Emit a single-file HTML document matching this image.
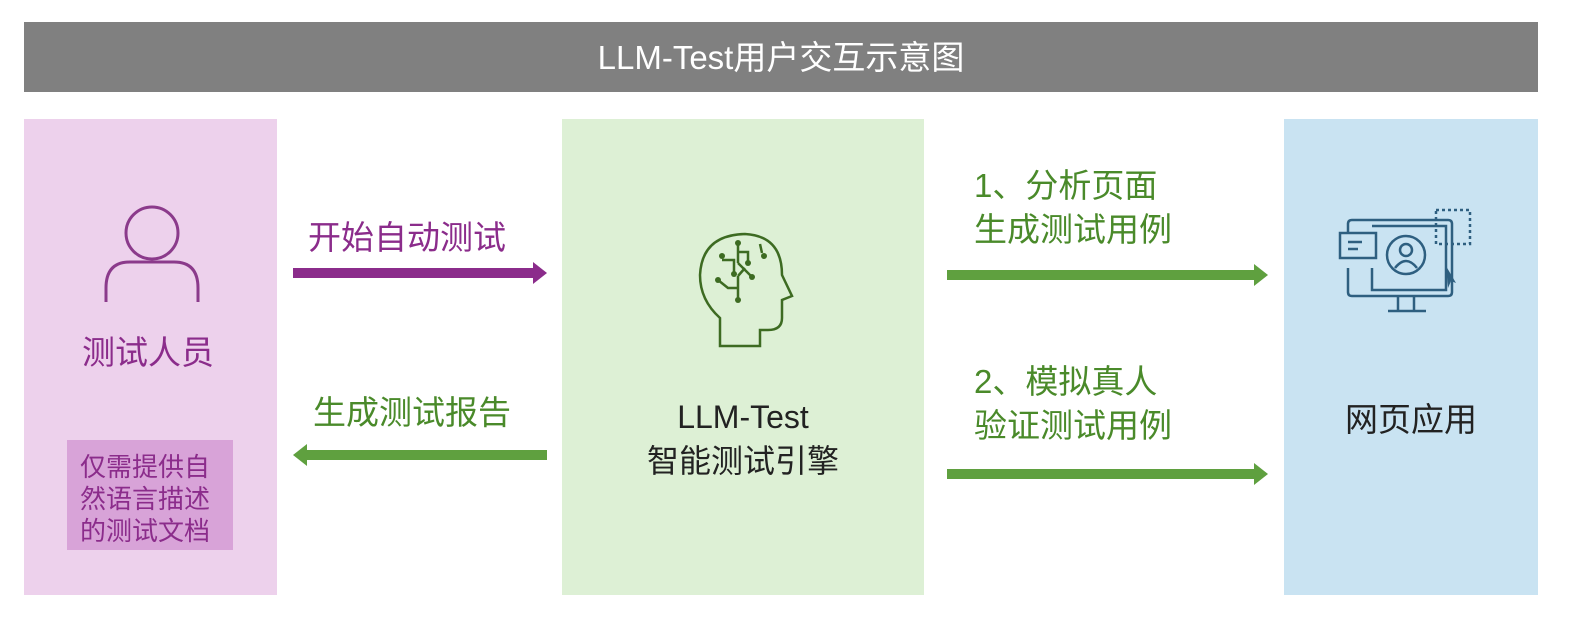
<!DOCTYPE html>
<html><head><meta charset="utf-8"><style>
body{margin:0;width:1586px;height:628px;background:#fff;position:relative;overflow:hidden;font-family:"Liberation Sans","Noto Sans CJK SC",sans-serif}
.a{position:absolute}
.t{position:absolute;white-space:nowrap;line-height:1}
</style></head><body>
<div class="a" style="left:24px;top:22px;width:1514px;height:70px;background:#808080"></div>
<div class="t" style="left:24px;width:1514px;top:41px;text-align:center;color:#fff;font-size:33px">LLM-Test用户交互示意图</div>
<div class="a" style="left:24px;top:119px;width:253px;height:476px;background:#edd1ec"></div>
<div class="a" style="left:562px;top:119px;width:362px;height:476px;background:#ddf0d5"></div>
<div class="a" style="left:1284px;top:119px;width:254px;height:476px;background:#c9e3f2"></div>
<svg class="a" style="left:0;top:0" width="1586" height="628">
<circle cx="152" cy="233" r="26" fill="none" stroke="#8b3a8b" stroke-width="3"/>
<path d="M106 302 V288 Q106 262 130 262 H174 Q198 262 198 288 V302" fill="none" stroke="#8b3a8b" stroke-width="3"/>
<rect x="293" y="268" width="242" height="10" fill="#8b2c8b"/><polygon points="533,262 547,273 533,284" fill="#8b2c8b"/>
<rect x="305" y="450" width="242" height="10" fill="#5fa03f"/><polygon points="307,444 293,455 307,466" fill="#5fa03f"/>
<rect x="947" y="270" width="308" height="10" fill="#5fa03f"/><polygon points="1254,264 1268,275 1254,286" fill="#5fa03f"/>
<rect x="947" y="469" width="308" height="10" fill="#5fa03f"/><polygon points="1254,463 1268,474 1254,485" fill="#5fa03f"/>
<g fill="none" stroke="#3d6b22" stroke-width="2.5">
<path d="M720 346 V318 Q700 300 700 275 Q702 235 745 234 Q782 236 782 275 L792 296 L782 300 V318 Q782 330 768 330 H760 V346 Z"/>
<path d="M738 243 V263 M738 252 H748 V263 M722 260 H734 V272 M738 263 L752 277 M738 276 L745 268 M738 276 V300 M738 288 H728 L718 280 M760 244 L762 253"/>
</g>
<g fill="#3d6b22"><circle cx="738" cy="243" r="3"/><circle cx="748" cy="263" r="3"/><circle cx="722" cy="256" r="3"/><circle cx="734" cy="274" r="3"/><circle cx="752" cy="277" r="3"/><circle cx="718" cy="280" r="3"/><circle cx="738" cy="300" r="3"/><circle cx="764" cy="256" r="3"/></g>
<g fill="none" stroke="#2e5f80" stroke-width="2.5">
<path d="M1348 233 V224 Q1348 220 1352 220 H1448 Q1452 220 1452 224 V292 Q1452 296 1448 296 H1352 Q1348 296 1348 292 V268"/>
<path d="M1372 226 H1446 V248 M1372 268 V290 H1446 V248"/>
<rect x="1340" y="233" width="36" height="25"/><path d="M1348 242 H1362 M1348 249 H1358"/>
<circle cx="1406" cy="255" r="19"/><circle cx="1406" cy="250" r="6"/><path d="M1395 268 Q1406 254 1417 268"/>
<path d="M1414 296 V310 M1398 296 V310 M1388 311 H1426"/>
<rect x="1436" y="210" width="34" height="34" stroke-dasharray="3 3"/>
</g>
<polygon points="1446,266 1456,283 1451,281 1448,288" fill="#2e5f80"/>
</svg>
<div class="t" style="left:82px;top:336px;font-size:33px;color:#8b2c8b">测试人员</div>
<div class="a" style="left:67px;top:440px;width:166px;height:110px;background:#d8a3d8"></div>
<div class="t" style="left:80px;top:451px;font-size:26px;color:#8b2c8b;line-height:32px">仅需提供自<br>然语言描述<br>的测试文档</div>
<div class="t" style="left:308px;top:221px;font-size:33px;color:#8b2c8b">开始自动测试</div>
<div class="t" style="left:313px;top:396px;font-size:33px;color:#4a8a2a">生成测试报告</div>
<div class="t" style="left:562px;width:362px;text-align:center;top:395px;font-size:32px;color:#222;line-height:44px">LLM-Test<br>智能测试引擎</div>
<div class="t" style="left:974px;top:164px;font-size:33px;color:#4a8a2a;line-height:44px">1、分析页面<br>生成测试用例</div>
<div class="t" style="left:974px;top:360px;font-size:33px;color:#4a8a2a;line-height:44px">2、模拟真人<br>验证测试用例</div>
<div class="t" style="left:1345px;top:403px;font-size:33px;color:#222">网页应用</div>
</body></html>
